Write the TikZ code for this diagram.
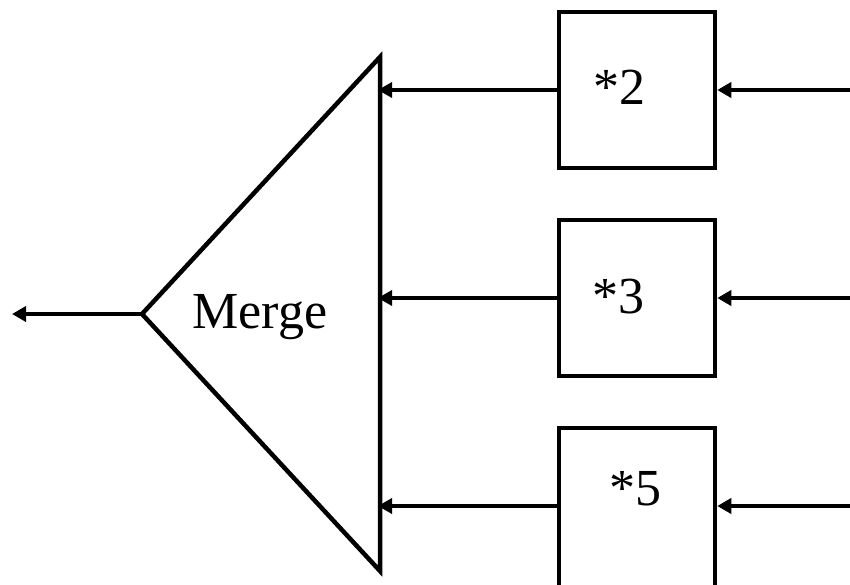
\documentclass[tikz,border=0pt]{standalone}
\usepackage{fontspec}
\setmainfont{Liberation Serif}
\usetikzlibrary{arrows.meta}
\begin{document}
\begin{tikzpicture}[x=1pt,y=-1pt,
  line/.style={line width=4.5pt},
  arr/.style={line width=4.5pt,-{Triangle[length=14pt,width=15pt]}},
  boxnode/.style={draw,line width=4.5pt,minimum width=156pt,minimum height=156pt,inner sep=0pt},
  lbl/.style={anchor=base,inner sep=0pt,font=\fontsize{52}{60}\selectfont}]
\useasboundingbox (0,0) rectangle (850,585);
\clip (0,0) rectangle (850,585);
% triangle (merge)
\coordinate (apex) at (142,314);
\coordinate (tt) at (380,57);
\coordinate (tb) at (380,571);
\draw[line,line join=miter] (apex) -- (tt) -- (tb) -- cycle;
\node[lbl] (merge) at (260,328) {Merge};
% boxes
\node[boxnode] (b2) at (637,90) {};
\node[boxnode] (b3) at (637,298) {};
\node[boxnode,minimum height=170pt] (b5) at (637,513) {};
\node[lbl] (t2) at (619,105) {*2};
\node[lbl] (t3) at (618,313) {*3};
\node[lbl] (t5) at (635,505) {*5};
% input ends
\coordinate (i2) at (852,90);
\coordinate (i3) at (852,298);
\coordinate (i5) at (852,506);
\coordinate (out) at (12,314);
% connectors
\draw[arr] (i2) -- (b2.east);
\draw[arr] (i3) -- (b3.east);
\draw[arr] (i5) -- (i5 -| b5.east);
\draw[arr,shorten >=-2pt] (b2.west) -- (b2.west -| tt);
\draw[arr,shorten >=-2pt] (b3.west) -- (b3.west -| tt);
\draw[arr,shorten >=-2pt] (i5 -| b5.west) -- (i5 -| tt);
\draw[arr] (apex) -- (out);
\end{tikzpicture}
\end{document}
